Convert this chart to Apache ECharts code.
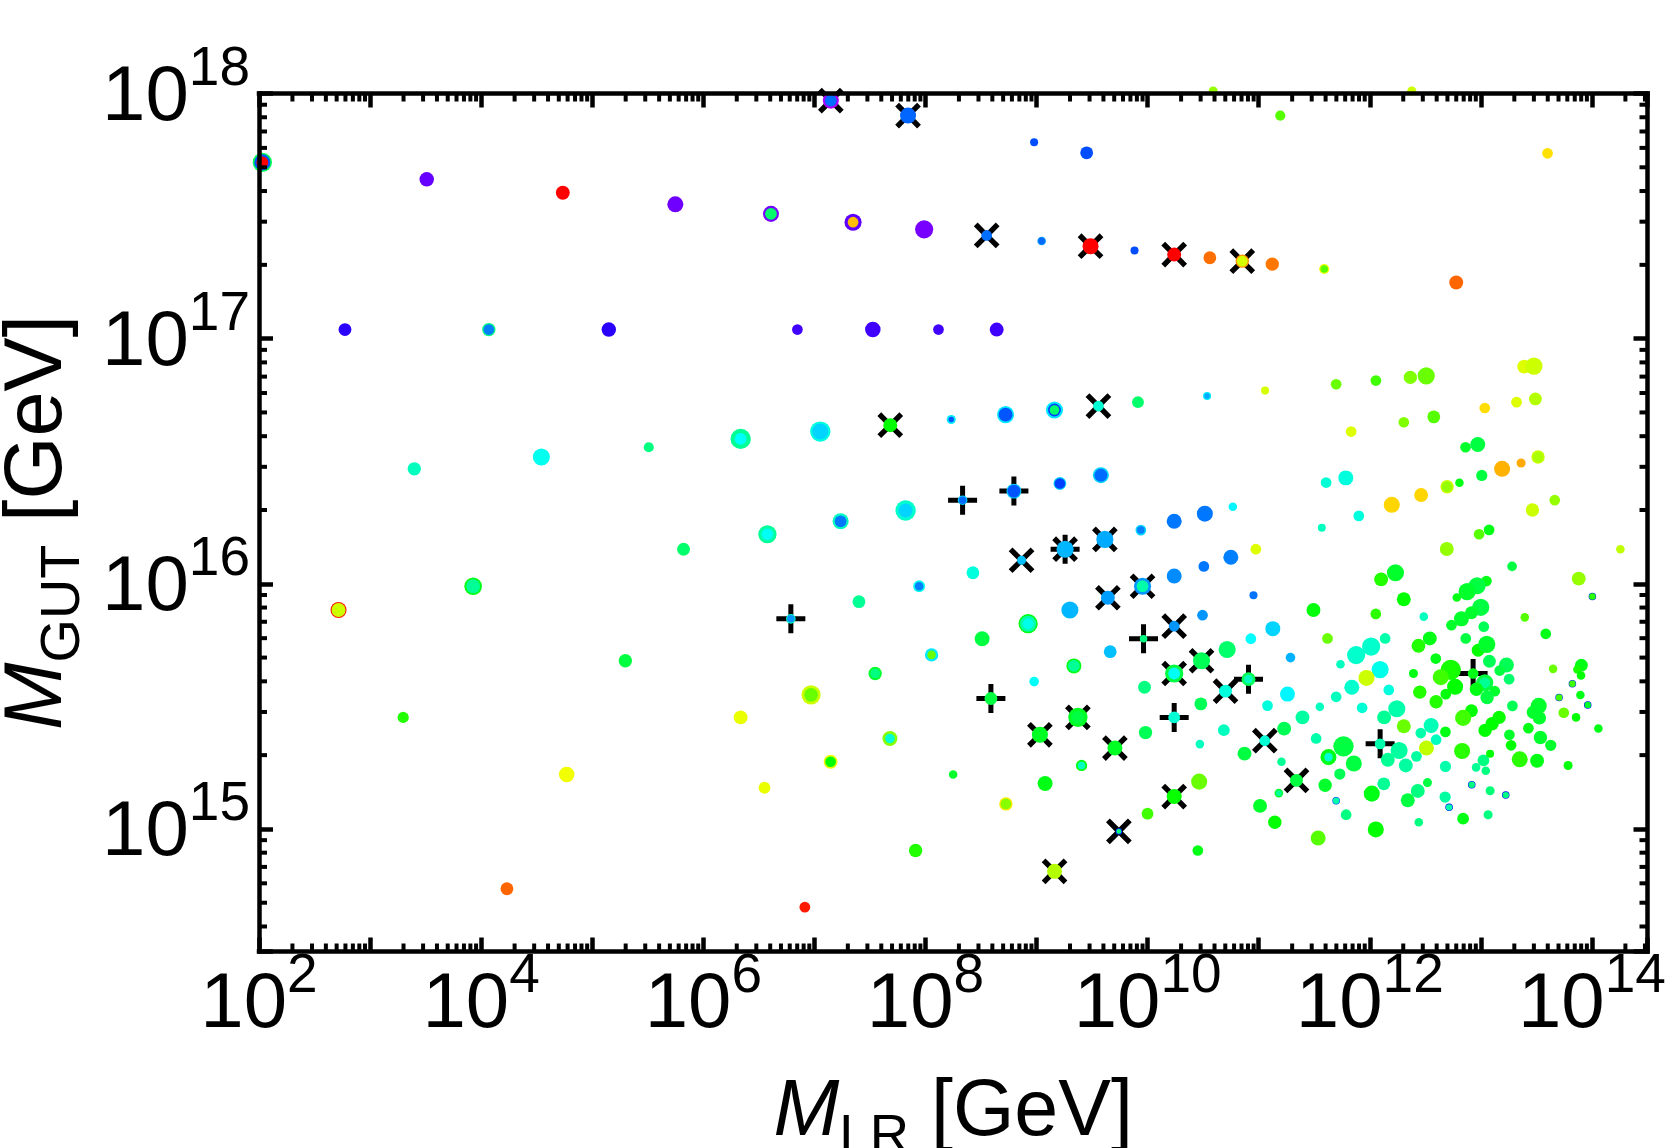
<!DOCTYPE html>
<html>
<head>
<meta charset="utf-8">
<title>M_GUT versus M_LR</title>
<style>html,body{margin:0;padding:0;background:#fff}#chart{width:1667px;height:1148px}</style>
<script src="https://cdn.jsdelivr.net/npm/echarts@6/dist/echarts.min.js"></script>
</head>
<body>
<div id="chart"></div>
<script>
// Every row: [log10 M_LR, log10 M_GUT, bubble weight, hue of the scanned quantity].
// A point seen as nested rings is several rows at one location, outermost first.
const leftEdge = [
  [2.03,17.719,18,140],[2.03,17.719,15,220],[2.03,17.719,11,0]
];
const upperBranch = [
  [3.510,17.650,13.5,264],[4.735,17.595,13,0],[5.748,17.548,15,266],
  [6.609,17.509,15,268],[6.609,17.509,11,145],[7.348,17.475,16,262],[7.348,17.475,10,45],
  [7.988,17.446,17,268],[8.551,17.421,10,214],[9.046,17.398,8,205],[9.046,17.398,6,215],
  [9.486,17.377,15,0],[9.882,17.360,7.5,222],[10.239,17.343,13,0],[10.560,17.330,12,26],
  [10.852,17.316,12.5,35],[10.852,17.316,10,70],[11.122,17.304,12.5,28],
  [11.590,17.284,9.5,62],[11.590,17.284,7,100],[12.778,17.229,13,24]
];
const topScatter = [
  [7.148,17.971,15,280],[7.148,17.971,11,214],[7.843,17.910,15,216],[8.978,17.801,7.5,222],
  [9.451,17.758,12,222],[11.194,17.910,9.5,100],[13.600,17.756,10,53]
];
const row17 = [
  [2.774,17.037,12,250],[4.069,17.037,12.5,150],[4.069,17.037,10,210],[5.149,17.037,13.5,250],
  [6.847,17.037,10,255],[7.526,17.037,14.5,255],[8.117,17.037,10,255],[8.641,17.037,13,255]
];
const branch165 = [
  [3.398,16.469,12.5,165],[4.542,16.517,16,176],[5.509,16.557,9.5,150],
  [6.336,16.591,19,155],[6.336,16.591,11,180],[7.053,16.621,19,172],[7.053,16.621,15,190],
  [7.683,16.647,13,120],[8.232,16.670,8.5,185],[8.232,16.670,5,220],
  [8.721,16.690,16,185],[8.721,16.690,13,220],[9.161,16.709,16,185],[9.161,16.709,12,225],[9.161,16.709,9,145],
  [9.557,16.725,10,170],[9.913,16.741,11,145],[10.535,16.766,7.5,185],[10.535,16.766,5,200],
  [11.057,16.788,7.5,70],[11.697,16.814,10,95],[12.055,16.829,10,105],[12.365,16.842,12.5,90],
  [12.508,16.848,16,95],[13.390,16.886,13,68],[13.478,16.888,16,72]
];
const branch16a = [
  [13.035,16.717,10,52],[13.321,16.741,10,68],[13.491,16.754,12,78],
  [12.306,16.659,10,90],[12.576,16.681,12,100],[11.832,16.621,10,68],
  [12.862,16.557,10,130],[12.972,16.568,14,135],
  [11.607,16.413,10,170],[11.784,16.432,14,172],[11.901,16.277,10,172],[11.568,16.229,7.5,165],
  [12.198,16.322,15,50],[12.462,16.362,13,50],[12.696,16.396,12.5,72],[12.696,16.396,10,85],
  [12.807,16.412,8,125],[13.008,16.442,10.5,135],[13.191,16.469,15,42],[13.362,16.493,8.5,40],
  [13.515,16.517,12.5,72],[13.515,16.517,10,80],[13.464,16.301,12.5,72],[13.665,16.341,10,85],
  [12.984,16.202,10,100],[13.074,16.220,10,125],[12.693,16.142,13,85],[14.256,16.141,8,75],[10.974,16.141,10,68]
];
const fanLeft = [
  [6.577,16.202,17,155],[6.577,16.202,13,165],[6.577,16.202,10,178],[5.822,16.141,12,145],
  [3.928,15.990,16.5,125],[3.928,15.990,13,155],[2.716,15.893,15,5],[2.716,15.893,13,72],
  [6.788,15.857,9,165],[6.788,15.857,7,205],[5.298,15.686,12.5,135],[3.298,15.455,10.5,112],
  [6.336,15.455,13,65],[6.970,15.547,18,72],[6.970,15.547,13,95],[4.770,15.222,14.5,63],
  [6.551,15.168,11,65],[4.232,14.756,12,24],[6.914,14.681,10,6]
];
const fanMiddleUpper = [
  [7.236,16.255,15,165],[7.236,16.255,11,212],[7.821,16.299,19,168],[7.821,16.299,13,190],
  [8.334,16.341,9,190],[8.334,16.341,7,215],[8.796,16.378,14,190],[8.796,16.378,12,220],
  [9.210,16.409,12,190],[9.210,16.409,10,225],[9.579,16.443,15,190],[9.579,16.443,12,215],
  [8.427,16.045,12,172],[7.943,15.990,11,175],[7.943,15.990,8,210],[7.401,15.927,12,155],
  [8.865,16.096,8.5,195],[9.257,16.141,16,197],[9.615,16.181,16,200],
  [9.939,16.219,10,190],[9.939,16.219,7,210],[10.239,16.255,14,212],[10.515,16.286,15,212],[10.767,16.314,8,182],
  [8.055,15.710,12.5,185],[8.055,15.710,8,95],[7.547,15.634,12.5,130],[7.547,15.634,9,150],
  [8.510,15.776,14,135],[8.924,15.837,18,125],[8.924,15.837,15,160],[8.924,15.837,10,175],
  [9.300,15.893,16,197],[9.642,15.943,13,203],[9.954,15.990,16,205],[9.954,15.990,11,160],
  [10.239,16.032,14,207],[10.506,16.071,10,212],[10.749,16.108,14,210]
];
const fanMiddleLower = [
  [7.680,15.369,14,88],[7.680,15.369,9,170],[7.146,15.274,13,65],[7.146,15.274,10,120],[8.249,15.222,8,130],
  [8.589,15.532,12,135],[8.978,15.601,9,178],[9.336,15.665,14,125],[9.336,15.665,11,155],
  [9.663,15.723,12,195],[9.963,15.776,7,150],[10.239,15.827,10,205],[10.494,15.872,10,205],[10.953,15.953,7.5,213],
  [9.030,15.384,15,128],[9.372,15.455,18,128],[9.372,15.455,12,135],[9.972,15.578,12,150],
  [10.239,15.634,17,135],[10.239,15.634,11,178],[10.485,15.686,16,140],[10.716,15.732,16,145],
  [10.929,15.776,10,180],[11.127,15.817,14,190],
  [9.405,15.259,10.5,125],[9.405,15.259,7,165],[9.705,15.330,14,128],[9.981,15.393,12.5,140],
  [10.239,15.455,11,170],[10.479,15.510,12,140],[10.701,15.562,12,172],[10.908,15.611,13,140],[10.908,15.611,8,165],
  [11.079,15.503,10,172],[8.724,15.102,12.5,55],[8.724,15.102,10,88],[9.077,15.185,14,125],
  [10.239,15.132,14,118],[9.999,15.062,11,105],[10.464,15.193,15,95],[9.741,14.990,6,230],[9.741,14.990,4.5,150],
  [7.911,14.912,12.5,112],[9.162,14.827,14,78],[10.452,14.912,10,125],[10.686,15.403,11,165],[10.470,15.346,8,165],
  [10.872,15.307,13,135],[11.055,15.360,10,170],[11.012,15.094,13,130],[11.145,15.027,12.5,120]
];
const clusterLeft = [
  [11.286,15.699,9,198],[11.619,15.777,10,95],[12.138,15.777,10,160],[12.012,15.744,17,168],[11.877,15.709,17,168],
  [11.736,15.672,8,165],[12.093,15.650,16,175],[11.970,15.616,15,72],[11.838,15.578,14,168],[11.697,15.539,10,165],
  [11.550,15.498,8,165],[11.259,15.550,14,182],[11.394,15.455,13,158],[11.229,15.409,13,140],[11.517,15.369,10,160],
  [11.205,15.274,8,155],[11.340,15.198,12,135],[11.181,15.146,8,130],[11.181,15.146,5.5,155],[11.535,14.963,14,100],
  [11.598,15.178,12.5,130],[11.730,15.224,10.5,140],[11.856,15.267,15,135],[11.628,15.293,15,125],[11.628,15.293,8,170],
  [11.763,15.337,19,135],[12.093,15.347,10,160],[12.264,15.320,16,158],[12.162,15.282,13,155],[12.324,15.259,13,158],
  [12.420,15.296,10,158],[12.126,15.184,12,155],[12.018,15.144,15,125],[11.697,15.115,7,230],[11.697,15.115,6,160],
  [11.787,15.058,10,150],[12.054,14.998,15,120],[12.342,15.117,13,135],[12.432,15.155,13,150],[12.519,15.189,8.5,135],
  [12.441,15.027,8,150],[12.678,15.130,10.5,158],[12.714,15.088,7,240],[12.714,15.088,6,160],[12.840,15.042,11,125]
];
const clusterMiddle = [
  [12.681,15.255,10.5,160],[12.831,15.318,15,110],[12.510,15.330,14,75],[12.597,15.364,10,165],[12.459,15.391,10,160],
  [12.552,15.422,14,163],[12.681,15.396,10,125],[12.306,15.419,13,95],[12.129,15.455,13,155],[12.243,15.490,16,160],
  [11.931,15.494,10,170],[12.171,15.567,10,172],[12.450,15.558,12.5,112],[12.597,15.519,12.5,112],[12.684,15.550,10,122],
  [12.393,15.634,8.5,125],[12.594,15.695,10,125],[12.438,15.747,13,112],[12.540,15.777,13,125],[12.864,15.777,10,135],
  [12.930,15.634,10,125],[12.729,15.649,19,115],[12.639,15.619,15,105],[12.768,15.580,15,120],[12.915,15.482,12,120],
  [12.840,15.453,15,105],[12.231,16.045,16,130],[12.102,16.018,13,112],[12.306,15.937,13,120],[11.493,15.893,13,122],
  [12.054,15.877,10,110],[12.486,15.866,8,165]
];
const clusterRight = [
  [13.281,16.071,9,135],[13.881,16.021,13,85],[13.050,16.011,10,125],[12.966,15.992,16,135],[12.876,15.968,16,130],
  [12.783,15.944,8,125],[14.004,15.948,7,230],[14.004,15.948,6,110],[12.999,15.904,16,135],[12.915,15.882,12,130],
  [12.825,15.857,14,130],[12.735,15.831,10,130],[13.395,15.863,8,100],[13.026,15.825,10,140],[13.584,15.796,10,125],
  [12.975,15.729,12,120],[13.053,15.753,16,130],[13.077,15.684,12,140],[13.230,15.669,14,140],[13.170,15.646,10,135],
  [13.254,15.611,10,145],[13.035,15.596,16,135],[13.035,15.596,10,155],[12.960,15.570,12.5,125],[13.125,15.562,10,130],
  [13.056,15.536,12.5,135],[13.284,15.502,10,140],[13.164,15.455,12.5,118],[13.101,15.429,12.5,120],[13.038,15.402,12.5,120],
  [13.257,15.384,10,130],[13.272,15.341,10,120],[13.350,15.284,15,110],[13.506,15.278,13,125],[13.785,15.259,8.5,122],
  [13.629,15.341,10.5,130],[13.536,15.373,12.5,130],[13.428,15.411,10,125],[13.521,15.502,15,130],[13.473,15.476,12.5,130],
  [13.527,15.453,12.5,130],[13.857,15.455,8,120],[13.746,15.474,10,95],[14.058,15.410,8,125],[13.896,15.546,8,125],
  [13.704,15.536,7,230],[13.704,15.536,6,105],[13.824,15.592,7,230],[13.824,15.592,6,105],[13.962,15.506,7,240],[13.962,15.506,6,130],
  [13.650,15.653,8,95],[13.905,15.668,12,125],[13.869,15.650,8,115],[13.902,15.626,8,120],
  [13.044,15.237,8,150],[12.957,15.251,8,155],[13.023,15.280,11,150],[13.083,15.307,7.5,120],
  [13.065,15.058,8.5,150],[13.083,15.156,8.5,148],[12.918,15.180,7,240],[12.918,15.180,6,150],[13.224,15.138,7,240],[13.224,15.138,6,150]
];
// Points sitting on the upper limit of the plot.
const rimPoints = [[10.590,18.01,9,85],[12.378,18.01,9,72]];

// Black markers flagging selected points: [log10 M_LR, log10 M_GUT].
const crossedPoints = [
  [7.148,17.971],[7.843,17.910],[8.551,17.421],[9.486,17.377],[10.239,17.343],[10.852,17.316],[7.683,16.647],[9.557,16.725],
  [8.865,16.096],[9.257,16.141],[9.615,16.181],[9.642,15.943],[9.954,15.990],[10.239,15.827],[9.030,15.384],[9.372,15.455],
  [10.239,15.634],[10.485,15.686],[9.705,15.330],[10.701,15.562],[10.239,15.132],[9.741,14.990],[9.162,14.827],[11.055,15.360],[11.340,15.198]
];
const plussedPoints = [
  [6.788,15.857],[8.334,16.341],[8.796,16.378],[9.257,16.141],[8.589,15.532],[9.963,15.776],[10.239,15.455],[10.908,15.611],[12.093,15.347],[12.930,15.634]
];

// Axis ranges as powers of ten, and the decades that carry minor ticks.
const xLimits = [2, 14.5];
const yLimits = [14.5, 18];
const xDecades = [2,3,4,5,6,7,8,9,10,11,12,13,14];
const yDecades = [14,15,16,17];
const minorFactors = [2,3,4,5,6,7,8,9];

const allPoints = [].concat(
  leftEdge, upperBranch, topScatter, row17, branch165, branch16a, fanLeft,
  fanMiddleUpper, fanMiddleLower, clusterLeft, clusterMiddle, clusterRight
);

const toValues = rows => rows.map(r => [Math.pow(10, r[0]), Math.pow(10, r[1])].concat(r.slice(2)));
const xMin = Math.pow(10, xLimits[0]), xMax = Math.pow(10, xLimits[1]);
const yMin = Math.pow(10, yLimits[0]), yMax = Math.pow(10, yLimits[1]);
const minorsOf = (decades, lo, hi) => {
  const out = [];
  decades.forEach(d => minorFactors.forEach(f => {
    const v = f * Math.pow(10, d);
    if (v > lo && v < hi) out.push(v);
  }));
  return out;
};
const xMinors = minorsOf(xDecades, xMin, xMax);
const yMinors = minorsOf(yDecades, yMin, yMax);

const FONT = '"Liberation Sans", Arial, sans-serif';
const bubbleScale = 1.07;
const powerLabel = (value) => {
  const e = Math.round(Math.log10(value));
  return `{b|10}{e|${e}}`;
};
const powerRich = {
  b: {fontFamily: FONT, fontSize: 78, color: '#000', lineHeight: 78, padding: [10, 0, 0, 0]},
  e: {fontFamily: FONT, fontSize: 55, color: '#000', lineHeight: 55, padding: [0, 0, 48, 0]}
};
const isDecade = v => Math.abs(Math.log10(v) - Math.round(Math.log10(v))) < 1e-6;

const nameRich = size => ({
  i: {fontFamily: FONT, fontStyle: 'italic', fontSize: size, color: '#000', lineHeight: size},
  s: {fontFamily: FONT, fontSize: size * 0.69, color: '#000', lineHeight: size * 0.69, padding: [size * 0.61, 0, 0, 0]},
  t: {fontFamily: FONT, fontSize: size, color: '#000', lineHeight: size}
});

const frameLine = {show: true, onZero: false, lineStyle: {color: '#000', width: 4.5, cap: 'square'}};
const majorTick = {show: true, inside: true, length: 14, lineStyle: {color: '#000', width: 4.5}};

const makeAxis = (extra, lo, hi) => Object.assign({
  type: 'log', logBase: 10, min: lo, max: hi, z: 6,
  axisLine: frameLine, axisTick: majorTick, splitLine: {show: false}, minorTick: {show: false},
  minorSplitLine: {show: false}
}, extra);

const tickSeries = (data, size, offset) => ({
  type: 'scatter', data, symbol: 'rect', symbolSize: size, symbolOffset: offset,
  itemStyle: {color: '#000', opacity: 1}, clip: false, silent: true, z: 6, animation: false
});

// A plus glyph; rotating it by 45 degrees gives the cross.
const plusGlyph = 'path://M12 0H17V12H29V17H17V29H12V17H0V12H12Z';

const bubbleStyle = {opacity: 1, color: p => `hsl(${p.data[3]},100%,50%)`};

const chart = echarts.init(document.getElementById('chart'), null, {renderer: 'canvas'});
chart.setOption({
  animation: false,
  backgroundColor: '#fff',
  grid: {left: 259, right: 19.5, top: 93.5, bottom: 196.5, containLabel: false, outerBoundsMode: 'none'},
  xAxis: [
    makeAxis({
      position: 'bottom', interval: 1, name: '{i|M}{s|LR}{t| [GeV]}', nameLocation: 'middle', nameGap: 122,
      nameTextStyle: {rich: nameRich(79)},
      axisLabel: {
        show: true, margin: 10, interval: 0, rich: powerRich, hideOverlap: false,
        formatter: v => (isDecade(v) && Math.round(Math.log10(v)) % 2 === 0) ? powerLabel(v) : ''
      }
    }, xMin, xMax),
    makeAxis({position: 'top', interval: 1, axisLabel: {show: false}}, xMin, xMax)
  ],
  yAxis: [
    makeAxis({
      position: 'left', name: '{i|M}{s|GUT}{t| [GeV]}', nameLocation: 'middle', nameRotate: 90, nameGap: 171,
      nameTextStyle: {rich: nameRich(81)},
      axisLabel: {
        show: true, margin: 9, interval: 0, rich: powerRich, hideOverlap: false,
        formatter: v => isDecade(v) ? powerLabel(v) : ''
      }
    }, yMin, yMax),
    makeAxis({position: 'right', axisLabel: {show: false}}, yMin, yMax)
  ],
  series: [
    {type: 'scatter', data: toValues(plussedPoints), symbol: plusGlyph, symbolSize: 29,
      itemStyle: {color: '#000', opacity: 1}, clip: false, silent: true, z: 2},
    {type: 'scatter', data: toValues(crossedPoints), symbol: plusGlyph, symbolSize: 31, symbolRotate: 45,
      itemStyle: {color: '#000', opacity: 1}, clip: false, silent: true, z: 2},
    {type: 'scatter', data: toValues(allPoints), symbol: 'circle', symbolSize: v => v[2] * bubbleScale,
      itemStyle: bubbleStyle, clip: true, silent: true, z: 3, large: false, progressive: 0},
    {type: 'scatter', data: toValues(rimPoints), symbol: 'circle', symbolSize: v => v[2],
      itemStyle: bubbleStyle, clip: false, silent: true, z: 3},
    tickSeries(xMinors.map(v => [v, yMin]), [4, 8], [0, -4]),
    tickSeries(xMinors.map(v => [v, yMax]), [4, 8], [0, 4]),
    tickSeries(yMinors.map(v => [xMin, v]), [8, 4], [4, 0]),
    tickSeries(yMinors.map(v => [xMax, v]), [8, 4], [-4, 0])
  ]
});
</script>
</body>
</html>
